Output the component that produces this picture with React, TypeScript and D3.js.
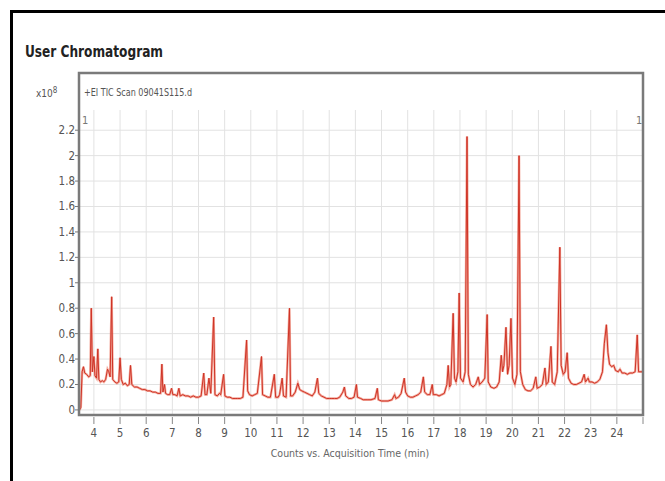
import React from "react";
import * as d3 from "d3";

const W = 665;
const H = 481;
const PLOT_LEFT = 79;
const PLOT_RIGHT = 643;
const PLOT_TOP = 73;
const DATA_TOP = 110;
const PLOT_BOTTOM = 415;
const FONT = "'Liberation Sans Narrow', 'DejaVu Sans Condensed', 'Liberation Sans', sans-serif";

// acquisition time (min) and counts (x10^8)
const traceTime = [
  3.45, 3.5, 3.55, 3.6, 3.65, 3.72, 3.8, 3.86, 3.9, 3.94, 4.0, 4.04, 4.1, 4.15, 4.19, 4.25,
  4.32, 4.38, 4.45, 4.52, 4.57, 4.62, 4.68, 4.72, 4.8, 4.88, 4.95, 5.0, 5.05, 5.12, 5.2, 5.28,
  5.35, 5.4, 5.45, 5.55, 5.65, 5.75, 5.85, 5.95, 6.05, 6.15, 6.25, 6.35, 6.45, 6.55, 6.6, 6.64,
  6.7, 6.74, 6.82, 6.9, 6.97, 7.02, 7.1, 7.18, 7.25, 7.3, 7.4, 7.5, 7.6, 7.7, 7.8, 7.9,
  8.0, 8.1, 8.2, 8.25, 8.32, 8.4, 8.47, 8.58, 8.63, 8.72, 8.8, 8.85, 8.96, 9.01, 9.1, 9.2,
  9.3, 9.4, 9.5, 9.6, 9.7, 9.84, 9.88, 9.95, 10.05, 10.15, 10.25, 10.41, 10.45, 10.55, 10.65, 10.75,
  10.9, 10.95, 11.05, 11.1, 11.2, 11.25, 11.35, 11.48, 11.52, 11.6, 11.7, 11.8, 11.87, 11.95, 12.05, 12.15,
  12.25, 12.35, 12.45, 12.55, 12.6, 12.7, 12.8, 12.9, 13.0, 13.1, 13.2, 13.3, 13.4, 13.52, 13.58, 13.63,
  13.75, 13.85, 13.95, 14.04, 14.08, 14.2, 14.3, 14.45, 14.6, 14.75, 14.84, 14.88, 15.0, 15.1, 15.25, 15.4,
  15.5, 15.55, 15.65, 15.75, 15.87, 15.92, 16.0, 16.1, 16.2, 16.3, 16.4, 16.5, 16.6, 16.65, 16.75, 16.85,
  16.94, 16.98, 17.1, 17.2, 17.3, 17.4, 17.5, 17.55, 17.6, 17.65, 17.74, 17.79, 17.85, 17.92, 17.97, 18.02,
  18.12, 18.2, 18.27, 18.32, 18.4, 18.5, 18.6, 18.7, 18.75, 18.85, 18.95, 19.04, 19.08, 19.18, 19.3, 19.4,
  19.5, 19.58, 19.63, 19.68, 19.76, 19.82, 19.88, 19.95, 20.01, 20.1, 20.18, 20.26, 20.31, 20.4, 20.5, 20.6,
  20.7, 20.8, 20.9, 20.95, 21.05, 21.15, 21.25, 21.3, 21.38, 21.48, 21.53, 21.62, 21.72, 21.82, 21.87, 21.95,
  22.02, 22.1, 22.15, 22.25, 22.35, 22.45, 22.55, 22.65, 22.75, 22.8, 22.9, 22.95, 23.05, 23.15, 23.25, 23.35,
  23.45, 23.52, 23.6, 23.66, 23.72, 23.8, 23.88, 23.95, 24.05, 24.12, 24.2, 24.3, 24.4, 24.5, 24.6, 24.7,
  24.78, 24.83, 24.92, 25.0,
];
const traceCounts = [
  0.0, 0.02, 0.3, 0.34, 0.29, 0.28, 0.26, 0.27, 0.8, 0.3, 0.42, 0.27, 0.25, 0.48, 0.24, 0.22,
  0.23, 0.22, 0.24, 0.32, 0.3, 0.26, 0.89, 0.24, 0.22, 0.21, 0.22, 0.41, 0.24, 0.2, 0.21, 0.19,
  0.2, 0.35, 0.2, 0.18, 0.18, 0.17, 0.16, 0.16, 0.15, 0.15, 0.14, 0.14, 0.13, 0.13, 0.36, 0.14,
  0.2, 0.13, 0.12, 0.12, 0.17, 0.12, 0.12, 0.11, 0.17, 0.11, 0.12, 0.11, 0.11, 0.1, 0.11, 0.1,
  0.1, 0.11, 0.29, 0.12, 0.12, 0.25, 0.13, 0.73, 0.12, 0.11, 0.13, 0.12, 0.28, 0.11, 0.1, 0.1,
  0.09, 0.09, 0.09, 0.09, 0.1, 0.55, 0.15, 0.12, 0.11, 0.12, 0.13, 0.42, 0.12, 0.11, 0.1, 0.1,
  0.28, 0.1, 0.1, 0.12, 0.25, 0.11, 0.1, 0.8, 0.11, 0.11, 0.14, 0.21, 0.16, 0.15, 0.14, 0.13,
  0.12, 0.11, 0.14, 0.25, 0.13, 0.11, 0.1, 0.09, 0.09, 0.09, 0.09, 0.09, 0.1, 0.14, 0.18, 0.11,
  0.09, 0.09, 0.1, 0.2, 0.1, 0.09, 0.08, 0.08, 0.08, 0.09, 0.17, 0.08, 0.07, 0.07, 0.07, 0.08,
  0.12, 0.09, 0.1, 0.13, 0.25, 0.14, 0.11, 0.1, 0.1, 0.11, 0.12, 0.14, 0.26, 0.14, 0.12, 0.12,
  0.2, 0.12, 0.12, 0.11, 0.12, 0.13, 0.2, 0.35, 0.18, 0.2, 0.76, 0.25, 0.22, 0.3, 0.92, 0.25,
  0.22, 0.3, 2.15, 0.28, 0.2, 0.18, 0.2, 0.26, 0.2, 0.22, 0.25, 0.75, 0.22, 0.18, 0.17, 0.18,
  0.22, 0.43, 0.3, 0.35, 0.65, 0.28, 0.35, 0.72, 0.25, 0.2, 0.28, 2.0, 0.3, 0.2, 0.16, 0.15,
  0.15, 0.17, 0.26, 0.17, 0.18, 0.2, 0.33, 0.2, 0.22, 0.5, 0.22, 0.2, 0.3, 1.28, 0.35, 0.28,
  0.3, 0.45, 0.25, 0.21, 0.2, 0.2, 0.21, 0.22, 0.28, 0.22, 0.25, 0.22, 0.22, 0.21, 0.22, 0.24,
  0.3, 0.52, 0.67, 0.45, 0.36, 0.34, 0.35, 0.31, 0.3, 0.32, 0.29, 0.29, 0.28, 0.29, 0.29, 0.3,
  0.59, 0.3, 0.3, 0.3,
];

const xTicks = d3.range(4, 26);
const yTicks = [0, 0.2, 0.4, 0.6, 0.8, 1, 1.2, 1.4, 1.6, 1.8, 2, 2.2];

export default function App() {
  const x = d3.scaleLinear().domain([3.43, 25]).range([PLOT_LEFT, PLOT_RIGHT]);
  const y = d3.scaleLinear().domain([-0.04, 2.65]).range([PLOT_BOTTOM, PLOT_TOP]);

  const points: [number, number][] = traceTime.map((t, i) => [t, traceCounts[i]]);
  const line = d3
    .line<[number, number]>()
    .x((d) => x(d[0]))
    .y((d) => y(d[1]));
  const path = line(points) || "";

  return (
    <svg
      width={W}
      height={H}
      style={{ position: "absolute", left: 0, top: 0, background: "#fff" }}
      fontFamily={FONT}
    >
      {/* page border, top and left only */}
      <line x1={10} x2={W} y1={11.5} y2={11.5} stroke="#000" strokeWidth={3} />
      <line x1={11.5} x2={11.5} y1={10} y2={H} stroke="#000" strokeWidth={3} />

      <text
        x={25}
        y={57}
        fontSize={16}
        fontWeight="bold"
        fill="#222"
        textLength={138}
        lengthAdjust="spacingAndGlyphs"
      >
        User Chromatogram
      </text>

      {/* grid */}
      <g stroke="#e2e2e2" strokeWidth={1}>
        {xTicks.slice(0, -1).map((t) => (
          <line key={t} x1={x(t)} x2={x(t)} y1={DATA_TOP} y2={PLOT_BOTTOM} />
        ))}
        {yTicks.map((v) => (
          <line key={v} x1={PLOT_LEFT} x2={PLOT_RIGHT} y1={y(v)} y2={y(v)} />
        ))}
      </g>

      {/* trace */}
      <path d={path} fill="none" stroke="#f08a78" strokeWidth={2.4} strokeOpacity={0.7} />
      <path d={path} fill="none" stroke="#cf3326" strokeWidth={1} strokeLinejoin="round" />

      {/* frame */}
      <rect
        x={PLOT_LEFT}
        y={PLOT_TOP}
        width={PLOT_RIGHT - PLOT_LEFT}
        height={PLOT_BOTTOM - PLOT_TOP}
        fill="none"
        stroke="#7a7a7a"
        strokeWidth={2.5}
      />

      <text x={84} y={96} fontSize={10.5} fill="#555" textLength={108} lengthAdjust="spacingAndGlyphs">
        +EI TIC Scan 09041S115.d
      </text>
      <text x={36} y={97} fontSize={10} fill="#555">
        x10
        <tspan dy={-4} fontSize={8}>
          8
        </tspan>
      </text>
      <text x={82} y={124} fontSize={11} fill="#777">
        1
      </text>
      <text x={636} y={124} fontSize={11} fill="#777">
        1
      </text>

      {/* y axis */}
      <g fill="#555" fontSize={11.5} textAnchor="end">
        {yTicks.map((v) => (
          <g key={v}>
            <line x1={PLOT_LEFT - 4} x2={PLOT_LEFT} y1={y(v)} y2={y(v)} stroke="#777" />
            <text x={PLOT_LEFT - 4} y={y(v) + 4}>
              {v === 0 ? "0" : String(v)}
            </text>
          </g>
        ))}
      </g>

      {/* x axis */}
      <g fill="#555" fontSize={11.5} textAnchor="middle">
        {xTicks.map((t) => (
          <g key={t}>
            <line x1={x(t)} x2={x(t)} y1={PLOT_BOTTOM + 2} y2={PLOT_BOTTOM + 9} stroke="#888" />
            {t < 25 && (
              <text x={x(t)} y={PLOT_BOTTOM + 22}>
                {t}
              </text>
            )}
          </g>
        ))}
      </g>
      <text x={350} y={457} fontSize={10.5} fill="#666" textAnchor="middle">
        Counts vs. Acquisition Time (min)
      </text>
    </svg>
  );
}
